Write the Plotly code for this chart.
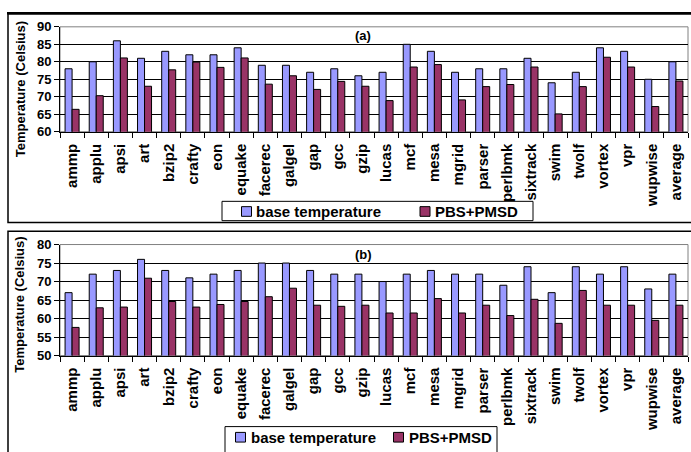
import plotly.graph_objects as go

W, H = 691, 452

categories = ["ammp", "applu", "apsi", "art", "bzip2", "crafty", "eon", "equake",
              "facerec", "galgel", "gap", "gcc", "gzip", "lucas", "mcf", "mesa",
              "mgrid", "parser", "perlbmk", "sixtrack", "swim", "twolf", "vortex",
              "vpr", "wupwise", "average"]

a_base = [78, 80, 86, 81, 83, 82, 82, 84, 79, 79, 77, 78, 76, 77, 85, 83,
          77, 78, 78, 81, 74, 77, 84, 83, 75, 80]
a_pbs = [66.4, 70.3, 81.1, 73.0, 77.7, 79.9, 78.4, 81.1, 73.6, 76.0, 72.1, 74.4, 73.0, 68.9, 78.5, 79.2,
         69.1, 72.9, 73.5, 78.5, 65.1, 72.9, 81.3, 78.5, 67.2, 74.5]

b_base = [67, 72, 73, 76, 73, 71, 72, 73, 75, 75, 73, 72, 72, 70, 72, 73,
          72, 72, 69, 74, 67, 74, 72, 74, 68, 72]
b_pbs = [57.6, 62.9, 63.1, 70.9, 64.6, 63.1, 63.8, 64.6, 65.9, 68.2, 63.6, 63.3, 63.6, 61.5, 61.5, 65.4,
         61.5, 63.6, 60.8, 65.2, 58.7, 67.6, 63.6, 63.6, 59.5, 63.6]

series_names = ["base temperature", "PBS+PMSD"]
colors = ["#9999FF", "#993366"]

FONT = "Liberation Sans, Arial, sans-serif"


def px_x(p):
    return p / W


def px_y(p):
    return 1 - p / H


fig = go.Figure()

for name, vals, col in zip(series_names, [a_base, a_pbs], colors):
    fig.add_trace(go.Bar(x=categories, y=vals, name=name,
                         marker=dict(color=col, line=dict(color="black", width=1)),
                         xaxis="x", yaxis="y", showlegend=False))
for name, vals, col in zip(series_names, [b_base, b_pbs], colors):
    fig.add_trace(go.Bar(x=categories, y=vals, name=name,
                         marker=dict(color=col, line=dict(color="black", width=1)),
                         xaxis="x2", yaxis="y2", showlegend=False))

xdom = [px_x(60), px_x(688)]
common_x = dict(type="category", tickangle=-90, ticks="outside", ticklen=5, tickcolor="black",
                tickson="boundaries", showline=True, linecolor="black", linewidth=1, showgrid=False,
                tickfont=dict(family=FONT, size=15, color="black", weight="bold"), ticklabelstandoff=5,
                domain=xdom)
common_y = dict(ticks="outside", ticklen=5, tickcolor="black", showline=True, linecolor="black",
                linewidth=1, showgrid=True, gridcolor="black", gridwidth=1, dtick=5,
                tickfont=dict(family=FONT, size=13, color="black", weight="bold"), zeroline=False)

fig.update_layout(
    width=W, height=H, margin=dict(l=0, r=0, t=0, b=0),
    paper_bgcolor="white", plot_bgcolor="white",
    barmode="group", bargap=0.42, bargroupgap=0,
    xaxis=dict(common_x, anchor="y"),
    yaxis=dict(common_y, anchor="x", domain=[px_y(129), px_y(20.5)], range=[60, 90]),
    xaxis2=dict(common_x, anchor="y2"),
    yaxis2=dict(common_y, anchor="x2", domain=[px_y(360.5), px_y(245.7)], range=[50, 80]),
    showlegend=False,
)

shapes = []
# plot area frames (gray)
for xr, yr in [("x domain", "y domain"), ("x2 domain", "y2 domain")]:
    shapes.append(dict(type="rect", xref=xr, yref=yr, x0=0, x1=1, y0=0, y1=1,
                       line=dict(color="#808080", width=1), layer="below"))
# outer boxes
shapes.append(dict(type="rect", xref="paper", yref="paper", x0=px_x(8), x1=px_x(705),
                   y0=px_y(223), y1=px_y(7), line=dict(color="black", width=1.5)))
shapes.append(dict(type="line", xref="paper", yref="paper", x0=px_x(7), x1=px_x(705),
                   y0=px_y(6.5), y1=px_y(6.5), line=dict(color="black", width=2.5)))
shapes.append(dict(type="rect", xref="paper", yref="paper", x0=px_x(8), x1=px_x(705),
                   y0=px_y(470), y1=px_y(232), line=dict(color="black", width=1.5)))

ann_font = dict(family=FONT, size=13, color="black", weight="bold")
leg_font = dict(family=FONT, size=15, color="black", weight="bold")
annotations = [
    dict(text="(a)", xref="paper", yref="paper", x=px_x(363), y=px_y(29), showarrow=False,
         font=ann_font, xanchor="center", yanchor="middle"),
    dict(text="(b)", xref="paper", yref="paper", x=px_x(363), y=px_y(256), showarrow=False,
         font=ann_font, xanchor="center", yanchor="middle"),
    dict(text="Temperature (Celsius)", xref="paper", yref="paper", x=px_x(20), y=px_y(85),
         textangle=-90, showarrow=False, font=ann_font, xanchor="center", yanchor="middle"),
    dict(text="Temperature (Celsius)", xref="paper", yref="paper", x=px_x(20), y=px_y(308),
         textangle=-90, showarrow=False, font=ann_font, xanchor="center", yanchor="middle"),
]

# legends (box, colour keys, labels) for both panels
legend_boxes = [
    # box x0, x1, y0, y1, key x positions, text x positions, centre y
    dict(box=(222, 533, 201, 221), keys=(241.5, 420), texts=(254, 433), cy=211.5),
    dict(box=(225, 497, 434, 470), keys=(235.5, 393.5), texts=(248.5, 406.5), cy=445),
]
for lb in legend_boxes:
    bx0, bx1, by0, by1 = lb["box"]
    shapes.append(dict(type="rect", xref="paper", yref="paper", x0=px_x(bx0), x1=px_x(bx1),
                       y0=px_y(by1), y1=px_y(by0), line=dict(color="black", width=1),
                       fillcolor="white"))
    for kx, tx, name, col in zip(lb["keys"], lb["texts"], series_names, colors):
        shapes.append(dict(type="rect", xref="paper", yref="paper", x0=px_x(kx), x1=px_x(kx + 10),
                           y0=px_y(lb["cy"] + 5), y1=px_y(lb["cy"] - 5),
                           line=dict(color="black", width=1), fillcolor=col))
        annotations.append(dict(text=name, xref="paper", yref="paper", x=px_x(tx), y=px_y(lb["cy"]),
                                showarrow=False, font=leg_font, xanchor="left", yanchor="middle"))

fig.update_layout(shapes=shapes, annotations=annotations)

fig.write_html("out.html")
